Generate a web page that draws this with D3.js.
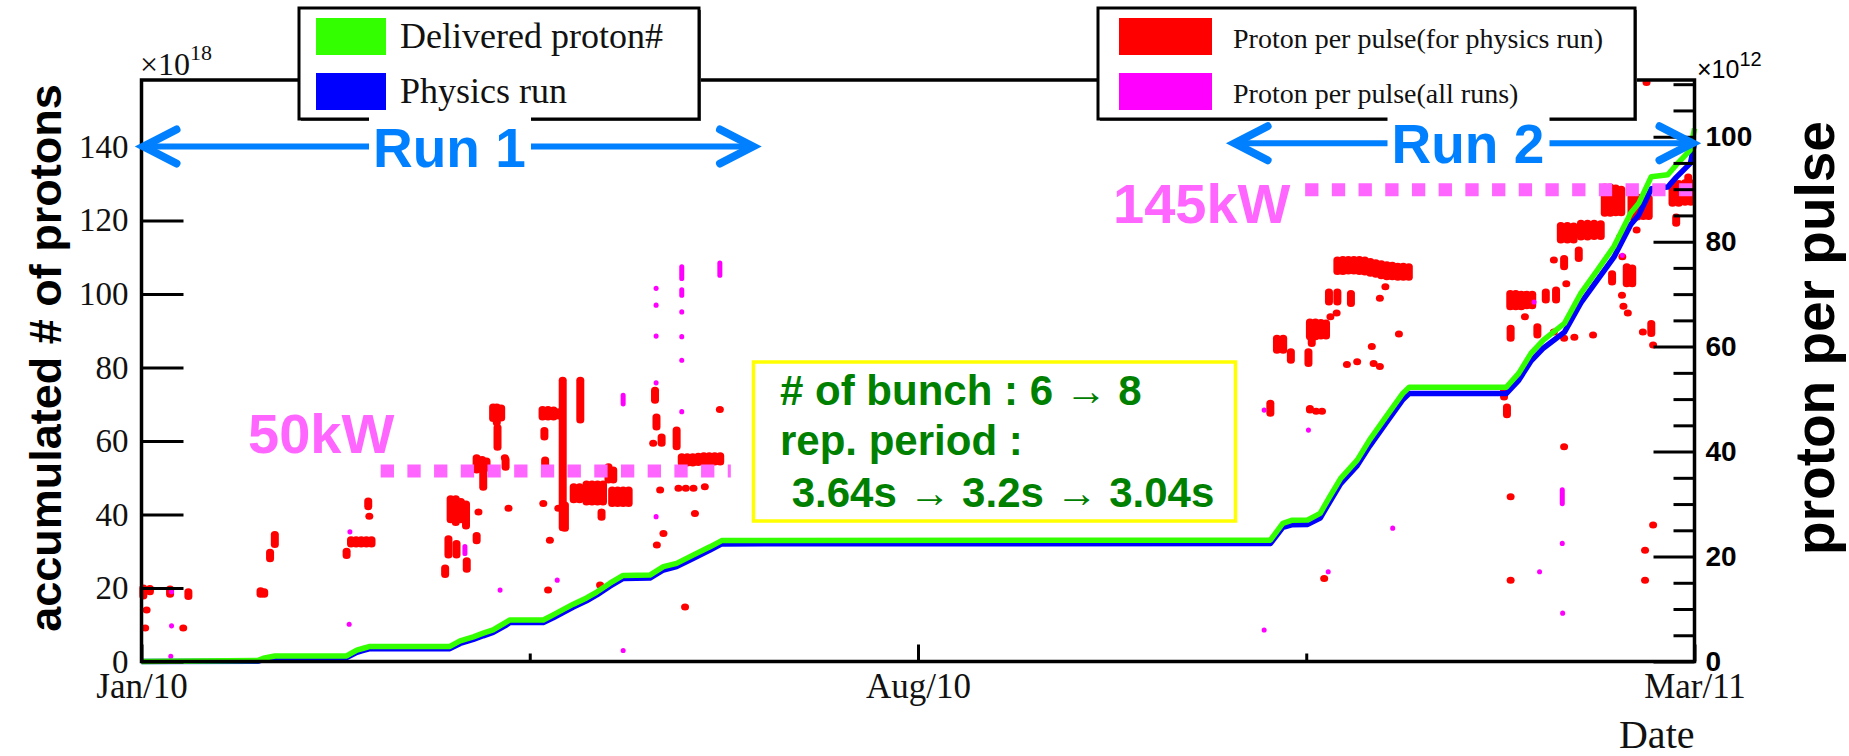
<!DOCTYPE html>
<html><head><meta charset="utf-8">
<script src="https://cdn.jsdelivr.net/npm/d3@7"></script>
<style>body{margin:0;background:#fff}svg{display:block}</style>
</head><body><svg id="c" width="1849" height="756"></svg>
<script>
// ---------------- DATA ----------------
const xTickLabels = ["Jan/10", "Aug/10", "Mar/11"];
const xTickDates  = ["2010-01-01", "2010-08-01", "2011-03-01"];
const xMinorDates = ["2010-04-17", "2010-11-15"];
const leftTicks   = [0, 20, 40, 60, 80, 100, 120, 140];
const rightTicks  = [0, 20, 40, 60, 80, 100];
const rightMinor  = [5, 10, 15, 25, 30, 35, 45, 50, 55, 65, 70, 75, 85, 90, 95, 105, 110];

// accumulated protons (x10^18), day = days since 2010-01-01
const cumDays   = [0, 31.9, 33.3, 36.4, 56, 58.8, 60.6, 62.4, 84.2, 87, 90.6, 93.3, 96, 99.7, 100.6, 109.7, 112.4, 115.2, 117.9, 121.5, 124.3, 127.9, 131.5, 138.8, 142.5, 146.1, 150.7, 155.2, 158.4, 308.2, 311.6, 314, 318.4, 321.8, 324.5, 327.4, 331.9, 335.3, 339.8, 344.4, 346.1, 372.6, 376, 379.4, 382.8, 388.5, 393, 397.5, 402, 406.6, 408.8, 412.2, 416.7, 419, 422.9, 424];
const delivered = [0, 0.3, 0.9, 1.5, 1.5, 3.1, 3.6, 4.1, 4.1, 5.6, 6.7, 7.7, 8.6, 10.8, 11.3, 11.3, 12.7, 14.2, 15.6, 17.3, 18.9, 21.3, 23.4, 23.5, 25.8, 26.7, 29, 31.2, 32.9, 33.0, 37.6, 38.4, 38.5, 40.3, 45, 49.8, 54.8, 60.3, 66.6, 73, 74.6, 74.6, 78.4, 83.9, 87.5, 92, 100.2, 106.5, 112.9, 122, 124.7, 131.9, 132.4, 135.1, 139.2, 145];
const physics   = [0, 0.1, 0.5, 1.1, 1.1, 2.5, 3.0, 3.5, 3.5, 4.9, 6.0, 7.0, 7.9, 10.0, 10.6, 10.6, 11.9, 13.4, 14.8, 16.5, 18.1, 20.5, 22.6, 22.7, 24.9, 25.8, 28.1, 30.3, 32.0, 32.1, 36.5, 37.2, 37.3, 39.0, 43.6, 48.4, 53.3, 58.6, 64.9, 71.3, 72.9, 72.9, 76.5, 81.8, 85.3, 89.6, 97.6, 103.8, 110.0, 118.9, 121.5, 128.6, 129.1, 131.7, 135.6, 141];

// proton per pulse (x10^12): [day, low, high]
const ppPhysics = [
 [0.5,12.5,14],[1.0,6.4,6.4],[1.4,9.8,9.8],[2.3,13.3,13.9],[7.8,12.8,13.8],[11.4,6.4,6.4],[12.8,12.4,13.3],
 [32.5,12.8,13.5],[33.5,12.8,13.3],[35.1,19.6,20.8],[36.4,22.3,24.2],
 [56,20.2,21],[57.2,22.4,23.2],[58.6,22.4,23.2],[60,22.4,23.2],[61.4,22.4,23.2],[62.8,22.4,23.2],[61.9,29.5,30.6],[62.2,27.7,27.7],
 [82.9,16.6,17.8],[83.8,20.3,23.4],[86,20.3,22.5],[88.8,17.6,19.2],[84.4,27,31],[85.8,26.5,31],[87.2,27,30.5],[88.6,25.8,30],
 [91.5,23,24],[92,28.5,28.5],[93.3,33.2,36],[91.5,36.5,38.8],[93,37,38.5],[94.2,36.8,38.2],
 [96,46.3,48.5],[97,45.5,48.5],[98.2,46.4,48.3],[97.2,40.8,44.6],[99.4,37,38.5],[99.2,38.8,38.8],[100.2,29.2,29.2],
 [109.5,46.6,48],[111,46.6,48],[112.5,46.6,47.9],[114,46.8,47.6],[110,42.8,44],[110.2,37.1,38.4],[109.7,30.1,30.1],[111.5,23.1,23.1],
 [115,25.5,53.6],[119.8,46,53.6],[115.6,25.4,29.8],[113.8,29.2,29.2],[118,30.8,33.3],[119.6,30.8,33.3],
 [121.5,30.4,33.8],[123,30.4,33.8],[124.5,30.4,33.8],[126,30.4,33.8],[125.6,27.5,28.5],
 [128.5,30.1,32.7],[130,30.1,32.7],[131.5,30.1,32.7],[133,30.1,32.7],[127.5,34.6,37.1],[128.8,34.6,36.5],
 [111,13.6,13.6],[125.2,14.6,14.6],
 [140.2,49.8,51.7],[140.6,44.7,46.6],[142,41.6,42.8],[139.7,41.6,41.6],[146.1,40.9,44.1],
 [147.5,37.8,39],[149,37.8,39],[150.5,37.8,39],[152,37.9,39.1],[153.5,38,39.2],[155,38,39.2],[156.5,38,39.2],[158,38,39.2],
 [141.6,32.7,32.7],[146.6,33,33],[148.6,33,33],[150.7,33,33],[153.8,33.3,33.3],[151.1,28.2,28.2],[157.9,48,48],[140.7,22.2,22.2],[142.5,24.4,24.4],[148.4,10.4,10.4],
 [308.2,47.3,49.2],[310,59.3,61.6],[311.7,59.3,61.6],[313.8,57.4,59],[318.6,56.8,59],[319,61.9,64.7],[320.5,61.9,64.7],[322,62,64.6],[323.4,62,64.5],[319.5,60.6,61.9],
 [324.2,68.5,70.4],[326.5,68.5,70.4],[330.2,68.2,70.1],
 [326.5,74.3,76.5],[328,74.3,76.6],[329.5,74.4,76.6],[331,74.4,76.6],[332.5,74.3,76.6],[334,74.2,76.5],[335.5,74,76.2],[337,73.8,76],[338.5,73.5,75.8],[340,73.3,75.6],[341.5,73.3,75.5],[343,73.2,75.3],[344.5,73.2,75.3],[346,73.2,75.2],
 [326.3,66.4,66.4],[324.6,65.7,65.7],[338.1,69.2,69.2],[339.6,71.4,71.4],[343.3,62.4,62.4],[335.9,60,60],[331.9,57.1,57.1],[329.1,56.6,56.6],[336.4,56.8,56.8],[338.1,56.2,56.2],
 [319,47.9,48.2],[320.7,47.7,47.7],[322.3,47.7,47.7],[322.9,15.8,15.8],
 [372,50.4,51.7],[372.8,47,48.5],
 [373.7,67.6,70.1],[375.2,67.6,70.1],[376.7,67.6,70],[378.2,67.8,70],[379.7,67.8,70],[383.4,68.9,70.4],[386.2,68.9,70.8],
 [377.7,65.7,65.7],[373.8,61.6,63.5],[381.1,62.2,63.8],[385.6,62.8,62.8],[388.4,61.6,61.6],[391.2,61.8,61.8],[396.3,62.2,62.2],
 [388.4,75.2,76.8],[385.6,76.5,76.5],[389,72,72],
 [387.5,80.3,83.1],[389.3,80.3,83.1],[391,80.3,83],[393,80.9,83.5],[394.8,80.9,83.5],[396.6,81,83.5],[398.4,81,83.4],[392.4,76.8,78.4],
 [399.5,85.4,90.4],[401,85.4,90.4],[402.5,85.5,90.2],[404,85.5,90],
 [406.8,84.7,88.5],[408.4,84.7,88.5],[410,84.8,88.4],[411.5,84.8,88.3],
 [408.2,82.2,82.2],[403.7,80.9,80.9],[404.3,77.1,77.1],[405.5,72,75.2],[407,72,75],[401.5,72.3,73.9],
 [404.2,69.8,69.8],[404.6,67.7,67.7],[405.8,66.4,66.4],
 [412.2,62.5,64.4],[409.9,62.8,62.8],[412.7,60.3,60.3],
 [418,87.3,91.1],[419.7,87.3,91.1],[421.4,87.5,91.2],[423,87.5,91.2],[419,83.5,84.7],[422.3,91.1,92.3],
 [412.7,26,26],[410.5,21.2,21.2],[410.5,15.5,15.5],[388.4,40.9,40.9],[373.8,31.4,31.4],[373.8,15.5,15.5],[410.9,110.3,110.3]
];
const ppAll = [
 [8.2,13.3,13.3],[8.2,6.8,6.8],[8,1,1],[56.9,24.7,24.7],[56.7,7.1,7.1],[88.3,20.6,21.9],[97.9,13.6,13.6],[113.5,15.5,15.5],[131.5,2.1,2.1],[131.5,49.1,50.7],
 [140.5,71.1,71.1],[140.5,67.9,67.9],[140.5,62,62],[140.5,53.1,53.1],[140.5,27.6,27.6],
 [147.5,73,75.2],[147.5,69.8,70.8],[147.5,66.6,66.6],[147.5,61.9,61.9],[147.5,57.4,57.4],[147.5,47.6,47.6],[157.9,73.6,75.9],
 [306.5,47.9,47.9],[318.6,44.1,44.1],[341.6,25.4,25.4],[324,17.1,17.1],[381.7,17.1,17.1],[387.9,30.1,32.7],[387.9,22.5,22.5],[404.3,77.4,77.4],[380.2,68.5,68.5],[306.5,6,6],[388,9.2,9.2]
];

// annotations
const runLabels = ["Run 1", "Run 2"];
const runStart  = [0, 297.9];      // days
const runEnd    = [167.5, 424];    // days
const runLevel  = [140.1, 141.0];  // left-axis value
const runTextX  = [373, 1391.5];
const powerLabels = ["50kW", "145kW"];
const powerLevel  = [36.3, 89.9];     // x10^12 proton per pulse
const powerStart  = [65.3, 317.7];    // days
const powerEnd    = [160.9, 424];     // days
const noteLines = ["# of bunch : 6 \u2192 8", "rep. period :", " 3.64s \u2192 3.2s \u2192 3.04s"];
const legend1 = [["Delivered proton#", "#33ff00"], ["Physics run", "#0000ff"]];
const legend2 = [["Proton per pulse(for physics run)", "#ff0000"], ["Proton per pulse(all runs)", "#ff00ff"]];

// ---------------- CHART ----------------
const SERIF = "'Liberation Serif', 'Times New Roman', serif";
const SANS = "'Liberation Sans', Arial, Helvetica, sans-serif";
const svg = d3.select("#c");
svg.append("rect").attr("width", 1849).attr("height", 756).attr("fill", "#fff");

const L = 141.5, R = 1694.5, T = 80, B = 661.5;
const parse = d3.utcParse("%Y-%m-%d");
const t0 = parse("2010-01-01").getTime();
const day = d => new Date(t0 + d * 864e5);
const x = d3.scaleUtc().domain([parse(xTickDates[0]), parse(xTickDates[2])]).range([L, R]);
const yL = d3.scaleLinear().domain([0, 158.2]).range([B, T]);
const yR = d3.scaleLinear().domain([0, 110.8]).range([B, T]);

// scatter
function drawPts(data, color, w, h0) {
  svg.append("g").selectAll("rect").data(data).join("rect")
    .attr("x", d => x(day(d[0])) - w / 2)
    .attr("y", d => yR(d[2]) - h0)
    .attr("width", w)
    .attr("height", d => yR(d[1]) - yR(d[2]) + 2 * h0)
    .attr("rx", w / 2).attr("ry", h0)
    .attr("fill", color);
}
drawPts(ppPhysics, "#ff0000", 8, 3.5);
drawPts(ppAll, "#ff00ff", 5, 2.6);

// cumulative lines
const cum = (vals) => d3.line().x((d, i) => x(day(cumDays[i]))).y((d, i) => yL(vals[i]));
svg.append("path").attr("d", cum(physics)(physics)).attr("fill", "none").attr("stroke", "#0000ff").attr("stroke-width", 5.5).attr("stroke-linejoin", "round");
svg.append("path").attr("d", cum(delivered)(delivered)).attr("fill", "none").attr("stroke", "#33ff00").attr("stroke-width", 5.5).attr("stroke-linejoin", "round");

// power lines
powerLabels.forEach((lab, i) => {
  svg.append("line").attr("x1", x(day(powerStart[i]))).attr("x2", x(day(powerEnd[i])))
    .attr("y1", yR(powerLevel[i])).attr("y2", yR(powerLevel[i]))
    .attr("stroke", "#ff66ff").attr("stroke-width", 13).attr("stroke-dasharray", "13.3 13.4");
});
svg.append("text").attr("x", 248).attr("y", 453).text(powerLabels[0])
  .attr("font-family", SANS).attr("font-weight", "bold").attr("font-size", 56).attr("fill", "#ff66ff");
svg.append("text").attr("x", 1113).attr("y", 223).text(powerLabels[1])
  .attr("font-family", SANS).attr("font-weight", "bold").attr("font-size", 56).attr("fill", "#ff66ff");

// axes
const axL = svg.append("g").attr("transform", `translate(${L},0)`)
  .call(d3.axisLeft(yL).tickValues(leftTicks).tickSize(-42).tickPadding(13));
const axR = svg.append("g").attr("transform", `translate(${R},0)`)
  .call(d3.axisRight(yR).tickValues(rightTicks).tickSize(-41).tickPadding(11));
const axRm = svg.append("g").attr("transform", `translate(${R},0)`)
  .call(d3.axisRight(yR).tickValues(rightMinor).tickSize(-21).tickFormat(""));
const axB = svg.append("g").attr("transform", `translate(0,${B})`)
  .call(d3.axisBottom(x).tickValues(xTickDates.map(parse)).tickSize(-17).tickPadding(12)
    .tickFormat((d, i) => xTickLabels[i]));
const axBm = svg.append("g").attr("transform", `translate(0,${B})`)
  .call(d3.axisBottom(x).tickValues(xMinorDates.map(parse)).tickSize(-8).tickFormat(""));
[axL, axR, axRm, axB, axBm].forEach(g => {
  g.select(".domain").remove();
  g.selectAll("line").attr("stroke", "#000").attr("stroke-width", 3);
});
axL.selectAll("text").attr("font-family", SERIF).attr("font-size", 33).attr("fill", "#111");
axB.selectAll("text").attr("font-family", SERIF).attr("font-size", 35).attr("fill", "#111");
axR.selectAll("text").attr("font-family", SANS).attr("font-weight", "bold").attr("font-size", 28).attr("fill", "#000");

// frame
svg.append("rect").attr("x", L).attr("y", T).attr("width", R - L).attr("height", B - T)
  .attr("fill", "none").attr("stroke", "#000").attr("stroke-width", 3.5);

// exponent labels
const e18 = svg.append("text").attr("x", 140).attr("y", 75).attr("font-family", SERIF).attr("font-size", 32).attr("fill", "#111");
e18.append("tspan").text("\u00d710");
e18.append("tspan").attr("dy", -15).attr("font-size", 22).text("18");
const e12 = svg.append("text").attr("x", 1697).attr("y", 78).attr("font-family", SANS).attr("font-size", 25).attr("fill", "#000");
e12.append("tspan").text("\u00d710");
e12.append("tspan").attr("dy", -12).attr("font-size", 20).text("12");

// axis titles
svg.append("text").attr("transform", "translate(61,358) rotate(-90)").attr("text-anchor", "middle")
  .attr("font-family", SANS).attr("font-weight", "bold").attr("font-size", 45).text("accumulated # of protons");
svg.append("text").attr("transform", "translate(1834,338) rotate(-90)").attr("text-anchor", "middle")
  .attr("font-family", SANS).attr("font-weight", "bold").attr("font-size", 55).text("proton per pulse");
svg.append("text").attr("x", R).attr("y", 748).attr("text-anchor", "end")
  .attr("font-family", SERIF).attr("font-size", 40).attr("fill", "#111").text("Date");

// legends
function legend(items, bx, by, bw, bh, sx, sw, tx, fs) {
  const g = svg.append("g");
  g.append("rect").attr("x", bx + 2).attr("y", by + 2).attr("width", bw).attr("height", bh).attr("fill", "#555");
  g.append("rect").attr("x", bx).attr("y", by).attr("width", bw).attr("height", bh)
    .attr("fill", "#fff").attr("stroke", "#000").attr("stroke-width", 3);
  items.forEach((it, i) => {
    const cy = by + 28.5 + i * 55;
    g.append("rect").attr("x", sx).attr("y", cy - 18.5).attr("width", sw).attr("height", 37).attr("fill", it[1]);
    g.append("text").attr("x", tx).attr("y", cy + 11).attr("font-family", SERIF).attr("font-size", fs)
      .attr("fill", "#111").text(it[0]);
  });
}
legend(legend1, 299, 8, 400, 111, 316, 70, 400, 36);
legend(legend2, 1098, 8, 537, 111, 1119, 93, 1233, 28);

// run arrows
runLabels.forEach((lab, i) => {
  const y = yL(runLevel[i]);
  const x1 = x(day(runStart[i])) + 2, x2 = x(day(runEnd[i])) - 2;
  const g = svg.append("g").attr("stroke", "#0080ff").attr("stroke-linecap", "round").attr("fill", "none");
  g.append("line").attr("x1", x1).attr("x2", x2).attr("y1", y).attr("y2", y).attr("stroke-width", 6);
  g.append("path").attr("d", `M${x1 + 33},${y - 17}L${x1},${y}L${x1 + 33},${y + 17}`).attr("stroke-width", 8).attr("stroke-linejoin", "miter");
  g.append("path").attr("d", `M${x2 - 33},${y - 17}L${x2},${y}L${x2 - 33},${y + 17}`).attr("stroke-width", 8).attr("stroke-linejoin", "miter");
  svg.append("rect").attr("x", runTextX[i] - 4).attr("y", y - 32).attr("width", 162).attr("height", 62).attr("fill", "#fff");
  svg.append("text").attr("x", runTextX[i]).attr("y", y + 20).attr("font-family", SANS).attr("font-weight", "bold")
    .attr("font-size", 55).attr("fill", "#0080ff").text(lab);
});

// note box
svg.append("rect").attr("x", 753.5).attr("y", 362).attr("width", 482).attr("height", 159)
  .attr("fill", "none").attr("stroke", "#ffff00").attr("stroke-width", 3.5);
const noteX = [780, 780, 780];
const noteY = [405, 455, 507];
noteLines.forEach((s, i) => {
  svg.append("text").attr("x", noteX[i]).attr("y", noteY[i]).attr("xml:space", "preserve").style("white-space", "pre")
    .attr("font-family", SANS).attr("font-weight", "bold").attr("font-size", 42).attr("fill", "#008000").text(s);
});
</script></body></html>
